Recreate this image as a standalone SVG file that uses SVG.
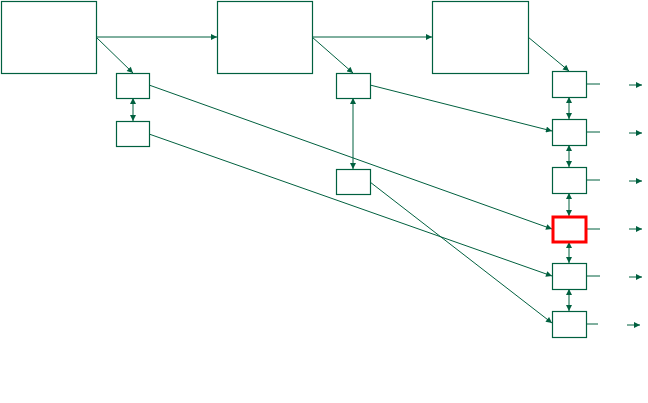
<svg xmlns="http://www.w3.org/2000/svg" width="648" height="403" viewBox="0 0 648 403">
<defs>
<marker id="ah" viewBox="0 0 10 10" refX="10" refY="5" markerWidth="7" markerHeight="6" markerUnits="userSpaceOnUse" orient="auto-start-reverse">
<path d="M0,0 L10,5 L0,10 Z" fill="#00603f"/>
</marker>
</defs>
<style>
.box{fill:#ffffff;stroke:#00603f;stroke-width:1.2}
.hl{fill:#ffffff;stroke:#ff0000;stroke-width:3}
.c{fill:none;stroke:#00603f;stroke-width:1}
.a{marker-end:url(#ah)}
.d{marker-start:url(#ah);marker-end:url(#ah)}
</style>
<rect width="648" height="403" fill="#ffffff"/>
<g id="connectors">
<line class="c a" x1="96" y1="37" x2="217" y2="37"/>
<line class="c a" x1="312" y1="37" x2="432" y2="37"/>
<line class="c a" x1="96" y1="37" x2="133" y2="73"/>
<line class="c a" x1="312" y1="37" x2="353" y2="73"/>
<line class="c a" x1="528" y1="37" x2="569" y2="71"/>
<line class="c d" x1="133" y1="98" x2="133" y2="121"/>
<line class="c d" x1="353" y1="98" x2="353" y2="169"/>
<line class="c a" x1="149" y1="85" x2="552" y2="229"/>
<line class="c a" x1="149" y1="134" x2="552" y2="276"/>
<line class="c a" x1="370" y1="85" x2="552" y2="131"/>
<line class="c a" x1="370" y1="182" x2="552" y2="323"/>
<line class="c d" x1="569" y1="97" x2="569" y2="119"/>
<line class="c d" x1="569" y1="145" x2="569" y2="167"/>
<line class="c d" x1="569" y1="193" x2="569" y2="216"/>
<line class="c d" x1="569" y1="242" x2="569" y2="263"/>
<line class="c d" x1="569" y1="289" x2="569" y2="311"/>
<line class="c" x1="586" y1="84" x2="600" y2="84"/>
<line class="c" x1="586" y1="132" x2="600" y2="132"/>
<line class="c" x1="586" y1="180" x2="600" y2="180"/>
<line class="c" x1="586" y1="229" x2="600" y2="229"/>
<line class="c" x1="586" y1="276" x2="600" y2="276"/>
<line class="c" x1="586" y1="324" x2="598" y2="324"/>
<line class="c a" x1="629" y1="85" x2="642" y2="85"/>
<line class="c a" x1="629" y1="133" x2="642" y2="133"/>
<line class="c a" x1="629" y1="181" x2="642" y2="181"/>
<line class="c a" x1="629" y1="229" x2="642" y2="229"/>
<line class="c a" x1="629" y1="277" x2="642" y2="277"/>
<line class="c a" x1="627" y1="325" x2="640" y2="325"/>
</g>
<g id="n1"><rect class="box" x="1.5" y="1.5" width="95" height="72"/></g>
<g id="n2"><rect class="box" x="217.5" y="1.5" width="95" height="72"/></g>
<g id="n3"><rect class="box" x="432.5" y="1.5" width="96" height="72"/></g>
<g id="a1"><rect class="box" x="116.5" y="73.5" width="33" height="25"/></g>
<g id="a2"><rect class="box" x="116.5" y="121.5" width="33" height="25"/></g>
<g id="b1"><rect class="box" x="336.5" y="73.5" width="34" height="25"/></g>
<g id="b2"><rect class="box" x="336.5" y="169.5" width="34" height="25"/></g>
<g id="r1"><rect class="box" x="552.5" y="71.5" width="34" height="26"/></g>
<g id="r2"><rect class="box" x="552.5" y="119.5" width="34" height="26"/></g>
<g id="r3"><rect class="box" x="552.5" y="167.5" width="34" height="26"/></g>
<g id="r4"><rect class="hl" x="553" y="217" width="33" height="25"/></g>
<g id="r5"><rect class="box" x="552.5" y="263.5" width="34" height="26"/></g>
<g id="r6"><rect class="box" x="552.5" y="311.5" width="34" height="26"/></g>
</svg>
